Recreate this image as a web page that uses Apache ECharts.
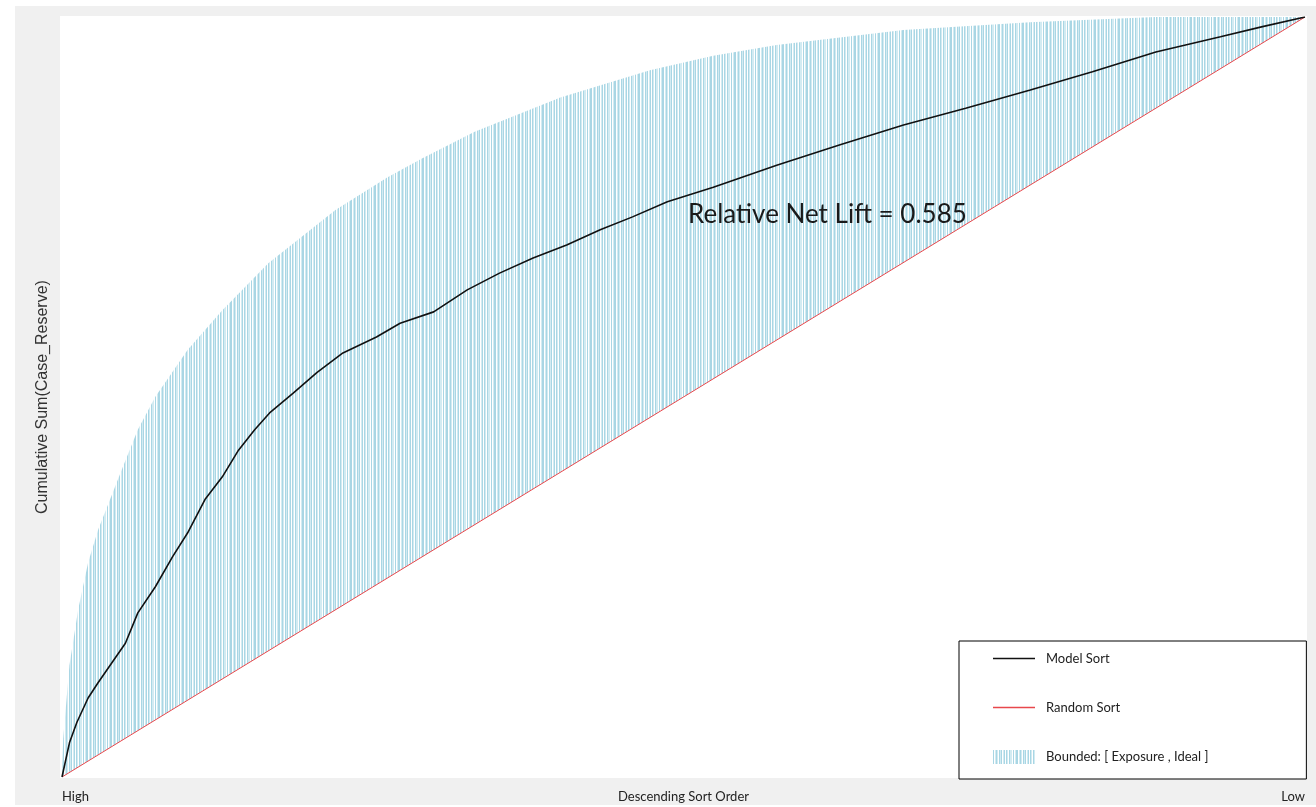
<!DOCTYPE html>
<html><head><meta charset="utf-8">
<script src="https://cdn.jsdelivr.net/npm/echarts@6/dist/echarts.min.js"></script>
<style>
html,body{margin:0;padding:0;background:#fff;width:1316px;height:807px;overflow:hidden}
#chart{position:absolute;left:15px;top:6px;width:1301px;height:799px;background:#f0f0f0}
</style></head><body><div id="chart"></div>
<script>
// ---- data (x: % of records in descending sort order, y: % of cumulative total) ----
const xLabels = ['High', 'Low'];
const xTitle = 'Descending Sort Order';
const yTitle = 'Cumulative Sum(Case_Reserve)';
const seriesNames = ['Model Sort', 'Random Sort', 'Bounded: [ Exposure , Ideal ]'];
const annotation = 'Relative Net Lift = 0.585';

const modelX = [0, 0.6, 1.2, 2.1, 2.9, 4.0, 5.1, 6.1, 7.5, 8.9, 10.1, 11.5, 12.9, 14.2, 15.5, 16.7, 18.6, 20.5, 22.6, 25.3, 27.2, 29.9, 32.6, 35.2, 37.9, 40.6, 43.3, 45.9, 48.7, 52.4, 57.5, 62.6, 67.7, 72.7, 77.9, 82.9, 88.0, 93.2, 96.5, 100];
const modelY = [0, 4.5, 7.2, 10.4, 12.4, 15.0, 17.6, 21.6, 25.0, 29.0, 32.1, 36.5, 39.5, 43.0, 45.7, 47.9, 50.5, 53.2, 55.8, 57.9, 59.7, 61.2, 64.1, 66.3, 68.3, 70.0, 72.0, 73.7, 75.7, 77.6, 80.5, 83.2, 85.8, 88.0, 90.4, 92.8, 95.4, 97.4, 98.7, 100];

const idealX = [0, 0.1, 0.6, 1.3, 2.1, 2.9, 4.8, 6.1, 7.5, 10.1, 12.9, 16.6, 22.0, 26.2, 29.0, 33.2, 40.1, 47.3, 52.4, 57.5, 67.7, 77.9, 88.0, 100];
const idealY = [0, 5.1, 14.7, 22.0, 28.2, 32.5, 40.4, 45.7, 50.0, 56.2, 61.4, 67.6, 74.6, 78.9, 81.4, 84.9, 89.4, 93.0, 94.9, 96.3, 98.3, 99.3, 100, 100];

const randomX = [0, 100];
const randomY = [0, 100];

// ---- styling ----
const STRIPE_COLORS = { D: '#a9d6e4', P: '#d2ebf2', W: '#ffffff' };
const STRIPE_SEQ = 'DWPDPWDPDWPDWDPWDPPWDWPD';
function makeStripePattern() {
  const cv = document.createElement('canvas');
  cv.width = STRIPE_SEQ.length; cv.height = 4;
  const ctx = cv.getContext('2d');
  for (let i = 0; i < STRIPE_SEQ.length; i++) {
    ctx.fillStyle = STRIPE_COLORS[STRIPE_SEQ[i]];
    ctx.fillRect(i, 0, 1, 4);
  }
  return { image: cv, repeat: 'repeat' };
}
const stripes = makeStripePattern();
const zip = (xs, ys) => xs.map((x, i) => [x, ys[i]]);
const FONT = 'Lato, "Open Sans", sans-serif';

const chart = echarts.init(document.getElementById('chart'), null, { renderer: 'canvas' });
chart.setOption({
  animation: false,
  backgroundColor: '#f0f0f0',
  grid: { left: 47, right: 11, top: 11, bottom: 28, containLabel: false, outerBoundsMode: 'none' },
  graphic: [
    { type: 'rect', z: -10, silent: true, shape: { x: 45, y: 10, width: 1247, height: 762 }, style: { fill: '#ffffff' } },
    { type: 'text', z: 50, silent: true, x: 673, y: 209,
      style: { text: annotation, font: '26px ' + FONT, fill: '#1a1a1a', textVerticalAlign: 'middle' } }
  ],
  xAxis: {
    type: 'value', min: 0, max: 100, interval: 100,
    axisLine: { show: false }, axisTick: { show: false }, splitLine: { show: false },
    axisLabel: {
      formatter: v => (v === 0 ? xLabels[0] : xLabels[1]),
      alignMinLabel: 'left', alignMaxLabel: 'right',
      margin: 13, fontFamily: FONT, fontSize: 13, color: '#222'
    },
    name: xTitle, nameLocation: 'middle', nameGap: 13, nameMoveOverlap: false,
    nameTextStyle: { fontFamily: FONT, fontSize: 13, color: '#222', verticalAlign: 'top' }
  },
  yAxis: {
    type: 'value', min: 0, max: 100,
    axisLine: { show: false }, axisTick: { show: false }, splitLine: { show: false }, axisLabel: { show: false },
    name: yTitle, nameLocation: 'middle', nameRotate: 90, nameGap: 11, nameMoveOverlap: false,
    nameTextStyle: { fontFamily: '"Liberation Sans", Arial, sans-serif', fontSize: 16, color: '#333' }
  },
  legend: {
    orient: 'vertical', left: 944, top: 635,
    padding: [11, 98, 15, 34],
    itemWidth: 42, itemHeight: 14, itemGap: 36,
    borderColor: '#000', borderWidth: 1, backgroundColor: '#fff',
    selectedMode: false,
    textStyle: { fontFamily: FONT, fontSize: 13, color: '#222', padding: [0, 0, 0, 6] },
    data: [
      { name: seriesNames[0], icon: 'path://M0,0H42V1.4H0Z', itemStyle: { color: '#111' } },
      { name: seriesNames[1], icon: 'path://M0,0H42V1.4H0Z', itemStyle: { color: '#e8484c' } },
      { name: seriesNames[2], icon: 'rect', itemStyle: { color: stripes } }
    ]
  },
  series: [
    {
      name: seriesNames[2], type: 'line', z: 1, smooth: false,
      showSymbol: false, silent: true,
      lineStyle: { width: 0 }, itemStyle: { color: stripes },
      areaStyle: { color: stripes, opacity: 1 },
      data: zip(idealX, idealY)
    },
    {
      name: seriesNames[1], type: 'line', z: 2, showSymbol: false, silent: true,
      lineStyle: { width: 1, color: '#e8484c' }, itemStyle: { color: '#e8484c' },
      areaStyle: { color: '#ffffff', opacity: 1 },
      data: zip(randomX, randomY)
    },
    {
      name: seriesNames[0], type: 'line', z: 3, showSymbol: false, silent: true,
      lineStyle: { width: 1.6, color: '#111' }, itemStyle: { color: '#111' },
      data: zip(modelX, modelY)
    }
  ]
});
</script></body></html>
